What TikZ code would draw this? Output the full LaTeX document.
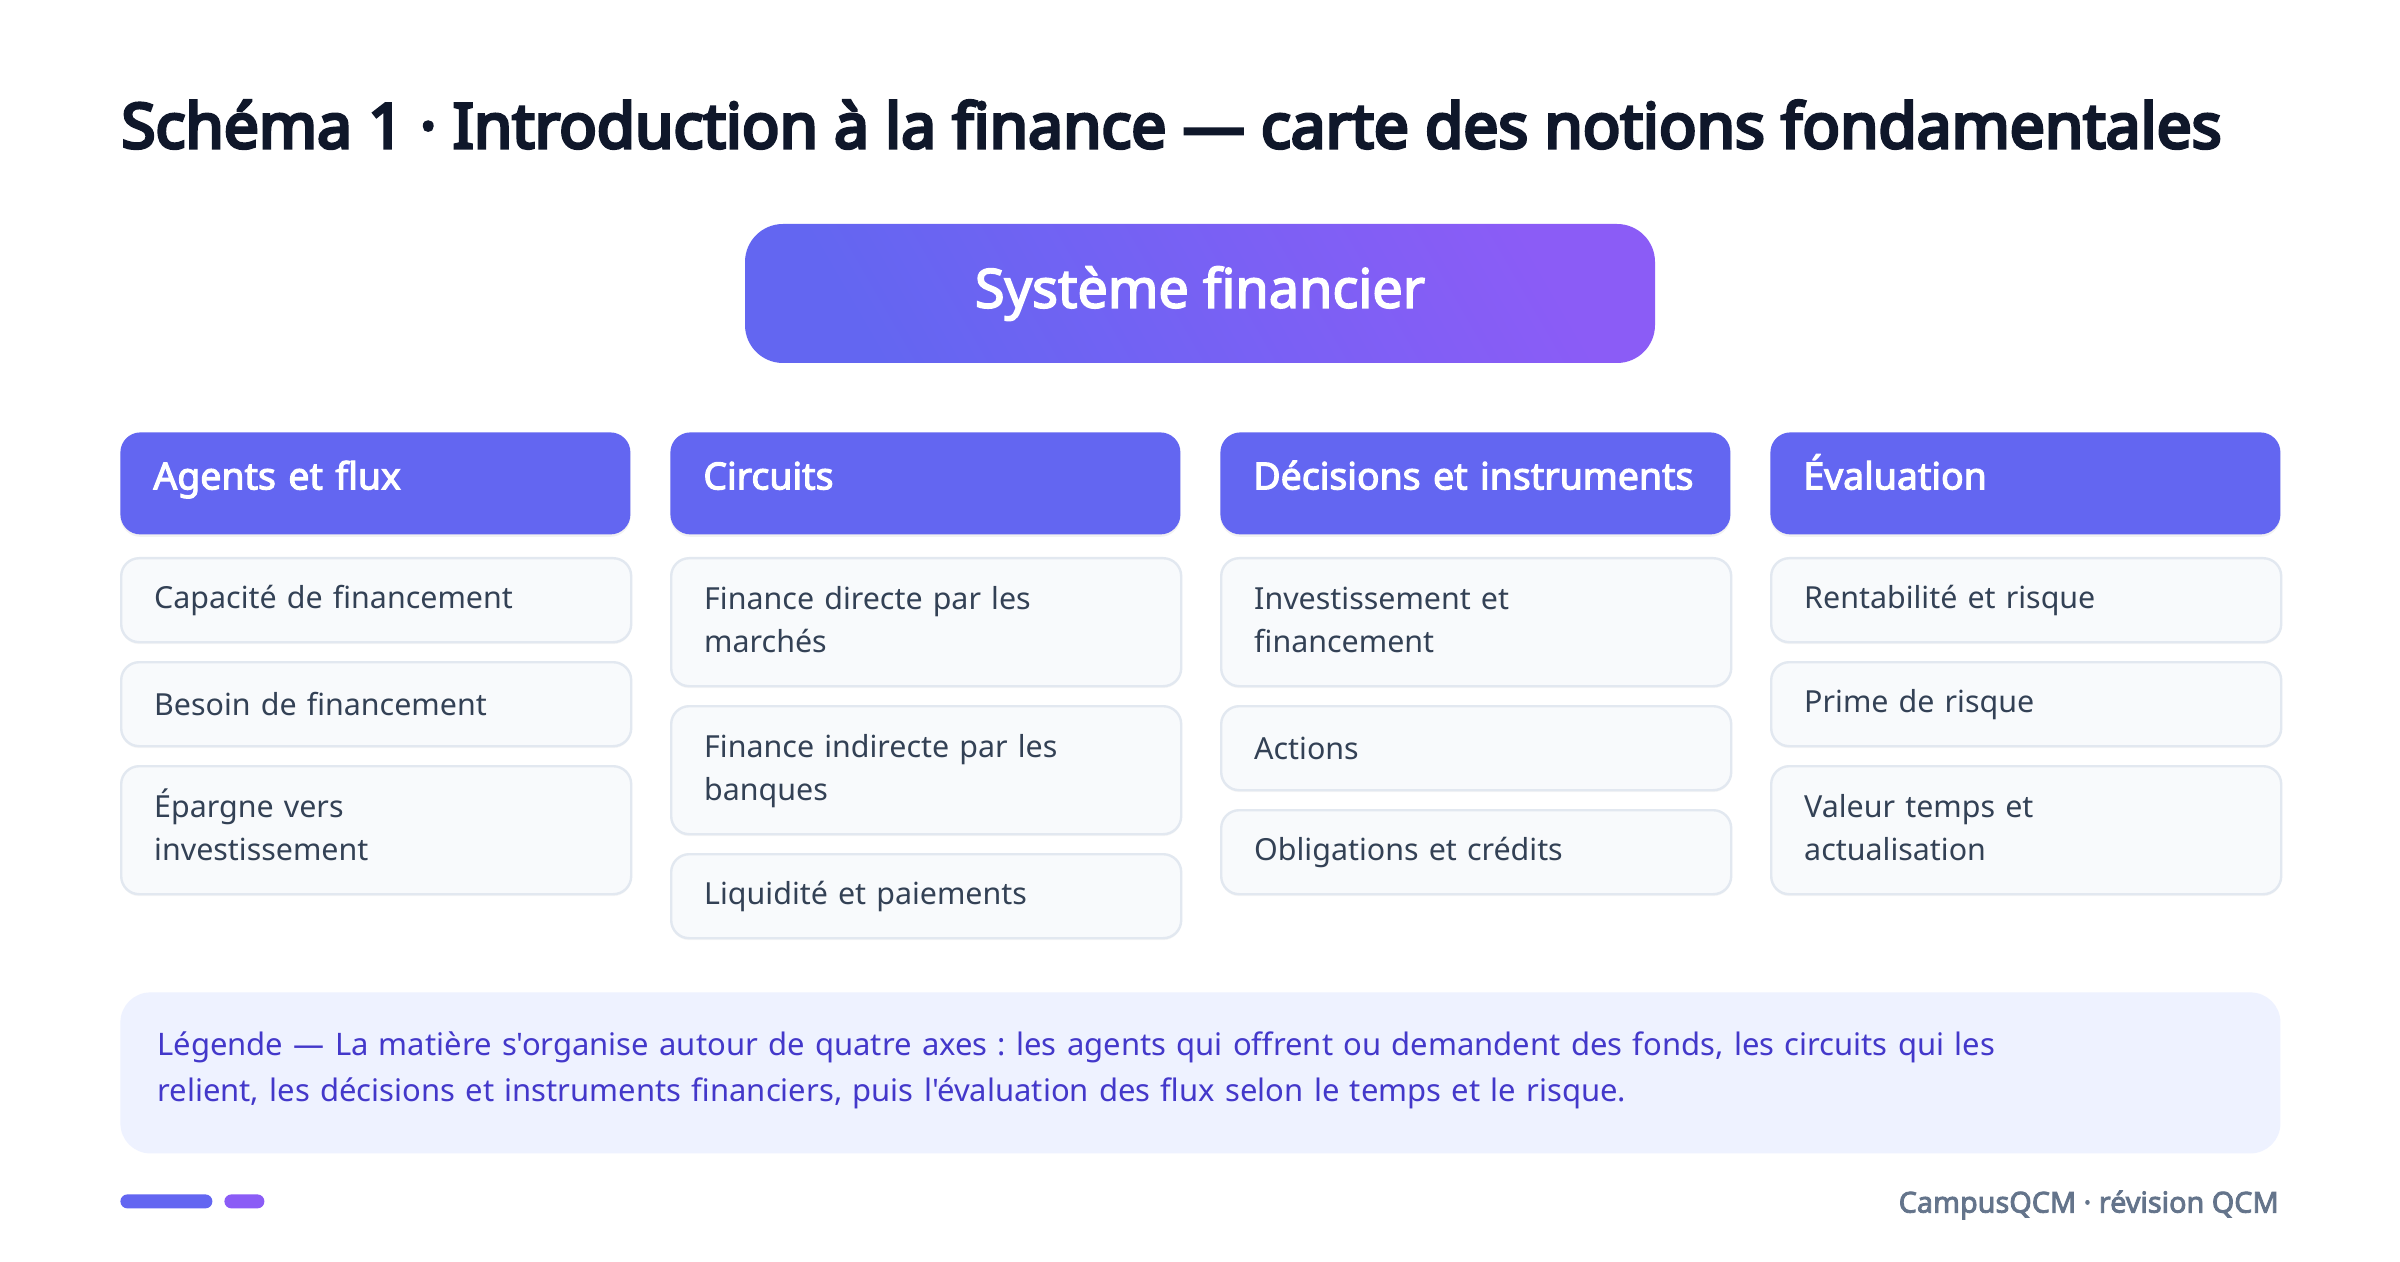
\documentclass[tikz,border=0pt]{standalone}
\usepackage{fontspec}
\setmainfont{Noto Sans}[BoldFont={Noto Sans}, BoldFeatures={FakeBold=3}, Ligatures=TeXOff]
\newfontfamily\heavyfont{Noto Sans}[FakeBold=5, Ligatures=TeXOff]
\frenchspacing
\usetikzlibrary{shadows}
\definecolor{indigoA}{HTML}{6366F1}
\definecolor{violetA}{HTML}{8B5CF6}
\definecolor{titlec}{HTML}{0F172A}
\definecolor{itemfill}{HTML}{F8FAFC}
\definecolor{itemline}{HTML}{E2E8F0}
\definecolor{itemtext}{HTML}{334155}
\definecolor{legfill}{HTML}{EEF2FF}
\definecolor{legtext}{HTML}{4338CA}
\definecolor{foot}{HTML}{64748B}
\tikzset{
  colhead/.style={fill=indigoA, rounded corners=10pt, anchor=north west,
    minimum height=51pt, text width=222pt, inner xsep=16.5pt, inner ysep=0pt,
    text height=12pt, text depth=6pt,
    align=left, text=white, font=\fontsize{18.7}{22}\selectfont\bfseries,
    drop shadow={shadow xshift=0pt, shadow yshift=-1.2pt, opacity=0.10}},
  itembox/.style={draw=itemline, line width=1.2pt, fill=itemfill, rounded corners=9pt,
    anchor=north west, text width=222pt, inner xsep=16.5pt, inner ysep=0pt,
    align=left, text=itemtext, font=\fontsize{15.2}{21.5}\selectfont\frenchspacing,
    drop shadow={shadow xshift=0pt, shadow yshift=-1pt, opacity=0.06}},
  oneline/.style={itembox, minimum height=42pt},
  twoline/.style={itembox, minimum height=64pt, text height=12.5pt, text depth=25.5pt},
}
\begin{document}
\begin{tikzpicture}[x=0.5pt,y=-0.5pt]
\useasboundingbox[fill=white] (0,0) rectangle (2400,1262);

\node[anchor=base west, inner sep=0pt, text=titlec,
  font=\fontsize{31.1}{36}\heavyfont] (title) at (121,148)
  {Schéma 1 · Introduction à la finance — carte des notions fondamentales};

\node[left color=indigoA, right color=violetA, shading angle=120, rounded corners=19pt,
  minimum width=455pt, minimum height=69.5pt, text=white,
  font=\fontsize{27}{32}\selectfont\bfseries] (sys) at (1200,293.5) {Système financier};

% column 1
\node[colhead] (h1) at (120,432) {Agents et flux};
\node[oneline] (a1) at (120,557) {Capacité de financement};
\node[oneline] (a2) at (120,661) {Besoin de financement};
\node[twoline] (a3) at (120,765) {Épargne vers\\investissement};

% column 2
\node[colhead] (h2) at (670,432) {Circuits};
\node[twoline] (b1) at (670,557) {Finance directe par les\\marchés};
\node[twoline] (b2) at (670,705) {Finance indirecte par les\\banques};
\node[oneline] (b3) at (670,853) {Liquidité et paiements};

% column 3
\node[colhead] (h3) at (1220,432) {Décisions et instruments};
\node[twoline] (c1) at (1220,557) {Investissement et\\financement};
\node[oneline] (c2) at (1220,705) {Actions};
\node[oneline] (c3) at (1220,809) {Obligations et crédits};

% column 4
\node[colhead] (h4) at (1770,432) {Évaluation};
\node[oneline] (d1) at (1770,557) {Rentabilité et risque};
\node[oneline] (d2) at (1770,661) {Prime de risque};
\node[twoline] (d3) at (1770,765) {Valeur temps et\\actualisation};

% legend
\node[fill=legfill, rounded corners=15pt, anchor=north west,
  minimum height=80.5pt, text width=1043pt, inner xsep=18.5pt, inner ysep=0pt,
  text height=11pt, text depth=28.4pt,
  align=left, text=legtext, font=\fontsize{15.5}{23}\selectfont\frenchspacing] (leg) at (120,992)
  {Légende — La matière s'organise autour de quatre axes : les agents qui offrent ou demandent des fonds, les circuits qui les\\relient, les décisions et instruments financiers, puis l'évaluation des flux selon le temps et le risque.};

% footer
\node[fill=indigoA, rounded corners=3.5pt, minimum width=46pt, minimum height=7pt,
  inner sep=0pt, anchor=north west] (bar1) at (120,1194) {};
\node[fill=violetA, rounded corners=3.5pt, minimum width=20pt, minimum height=7pt,
  inner sep=0pt, anchor=north west] (bar2) at (224,1194) {};
\node[anchor=east, inner sep=0pt, text=foot,
  font=\fontsize{14.4}{17}\selectfont\bfseries] (foot) at (2279,1205) {CampusQCM · révision QCM};
\end{tikzpicture}
\end{document}
